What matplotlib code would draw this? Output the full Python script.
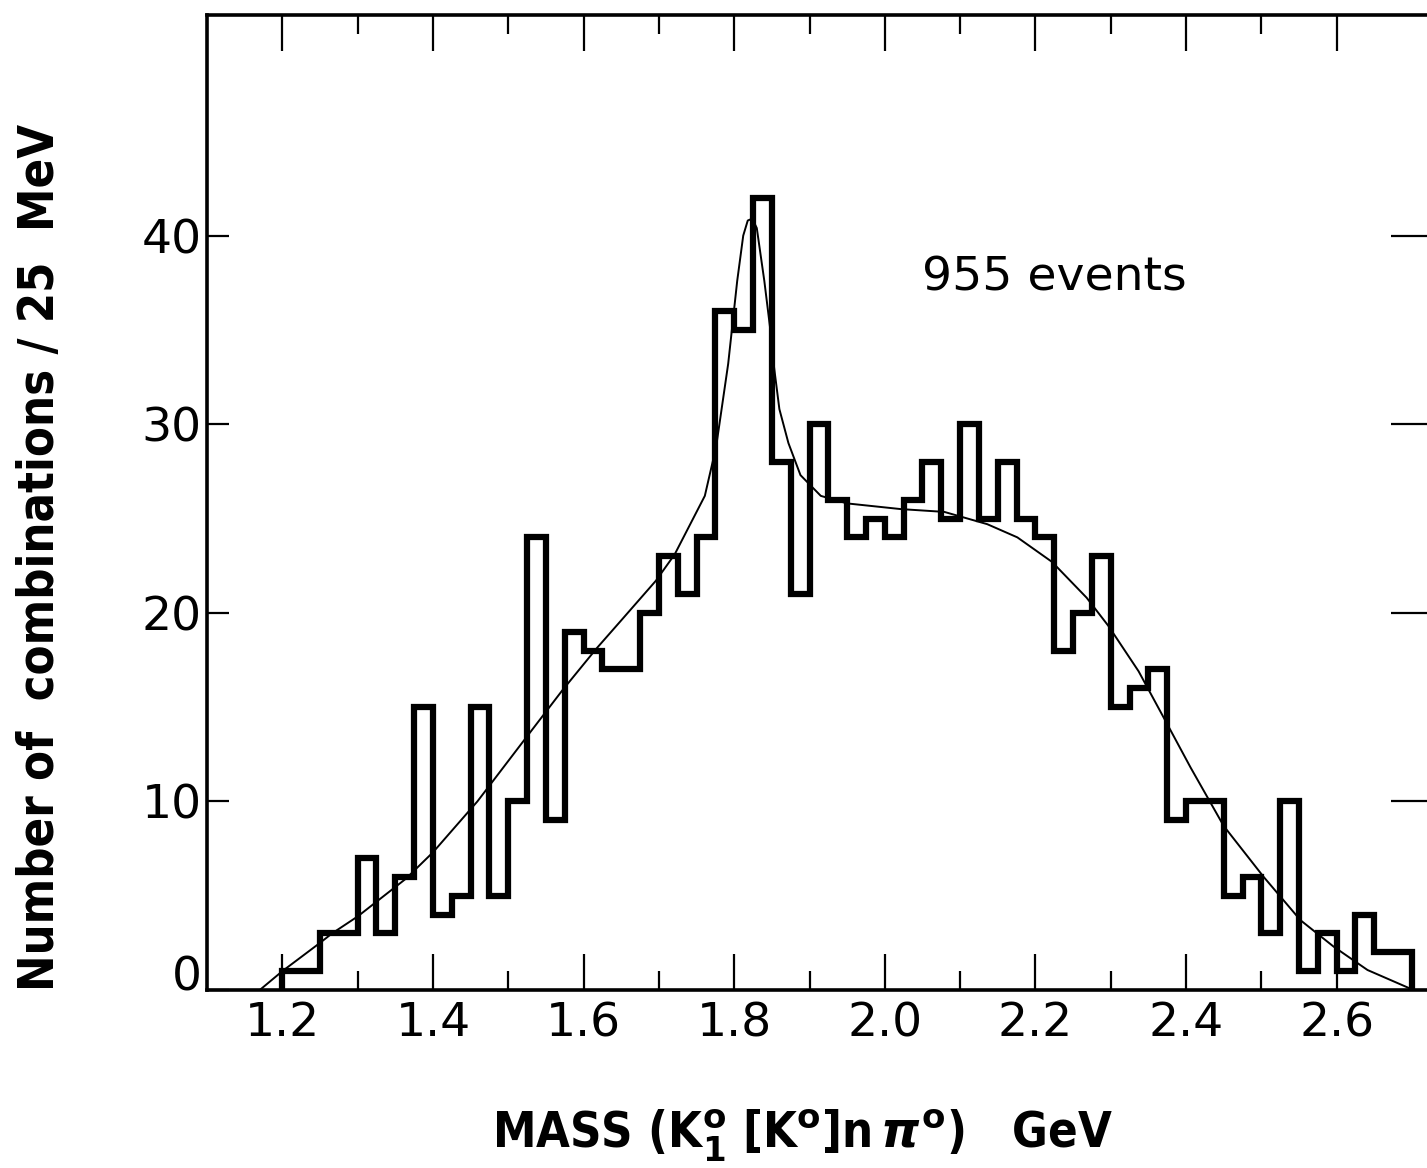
import matplotlib
matplotlib.use("Agg")
import matplotlib.pyplot as plt
import matplotlib.transforms as mtransforms
import numpy as np

# histogram: 25 MeV bins from 1.2 to 2.7 GeV
bin_edges = np.linspace(1.2, 2.7, 61)
counts = [1, 1, 3, 3, 7, 3, 6, 15, 4, 5,
          15, 5, 10, 24, 9, 19, 18, 17, 17, 20,
          23, 21, 24, 36, 35, 42, 28, 21, 30, 26,
          24, 25, 24, 26, 28, 25, 30, 25, 28, 25,
          24, 18, 20, 23, 15, 16, 17, 9, 10, 10,
          5, 6, 3, 10, 1, 3, 1, 4, 2, 2]

# fitted curve
fit_x = [1.170, 1.200, 1.250, 1.266, 1.300, 1.364, 1.400, 1.459, 1.524, 1.572,
         1.617, 1.650, 1.696, 1.721, 1.761, 1.776, 1.792, 1.804, 1.812, 1.818,
         1.824, 1.830, 1.840, 1.848, 1.853, 1.860, 1.872, 1.888, 1.915, 1.950,
         2.021, 2.079, 2.136, 2.176, 2.222, 2.268, 2.297, 2.337, 2.375, 2.406,
         2.450, 2.503, 2.552, 2.596, 2.641, 2.702]
fit_y = [0.0, 1.0, 2.5, 3.0, 3.9, 5.9, 7.3, 10.0, 13.4, 15.9,
         18.1, 19.6, 21.7, 23.1, 26.2, 28.8, 33.2, 37.6, 40.0, 40.8,
         40.9, 40.4, 37.6, 35.0, 33.0, 30.8, 29.0, 27.3, 26.2, 25.8,
         25.5, 25.35, 24.7, 24.0, 22.7, 20.8, 19.3, 16.9, 14.1, 11.8,
         8.7, 6.0, 3.7, 2.3, 1.06, 0.0]

x_major = [1.2, 1.4, 1.6, 1.8, 2.0, 2.2, 2.4, 2.6]
x_major_labels = ["1.2", "1.4", "1.6", "1.8", "2.0", "2.2", "2.4", "2.6"]
x_minor = [1.3, 1.5, 1.7, 1.9, 2.1, 2.3, 2.5]
y_ticks = [0, 10, 20, 30, 40]
y_labels = ["0", "10", "20", "30", "40"]

cond = ["DejaVu Sans Condensed", "DejaVu Sans"]
plt.rcParams["mathtext.fontset"] = "custom"
plt.rcParams["mathtext.rm"] = "DejaVu Sans Condensed:bold"
plt.rcParams["mathtext.it"] = "DejaVu Sans Condensed:bold:italic"
plt.rcParams["mathtext.bf"] = "DejaVu Sans Condensed:bold"

fig = plt.figure(figsize=(14.27, 11.68), dpi=100)
ax = fig.add_axes([0.1451, 0.1524, 0.8605, 0.8348])

ax.stairs(counts, bin_edges, baseline=0, color="black", linewidth=4.5)
ax.plot(fit_x, fit_y, color="black", linewidth=1.4)

ax.set_xlim(1.1, 2.7306)
ax.set_ylim(0, 51.7)

for s in ax.spines.values():
    s.set_linewidth(2.6)

ax.set_xticks(x_major)
ax.set_xticklabels(x_major_labels)
ax.set_xticks(x_minor, minor=True)
ax.tick_params(axis="x", which="both", direction="in", top=True, bottom=True,
               width=1.6, pad=8, labelsize=34, colors="black")
ax.tick_params(axis="x", which="major", length=26)
ax.tick_params(axis="x", which="minor", length=14)

ax.set_yticks(y_ticks)
ax.set_yticklabels(y_labels)
ax.tick_params(axis="y", direction="in", length=16, width=1.6, pad=4,
               labelsize=34, right=False)

# the "0" label sits a little above the axis line
zero_lab = ax.get_yticklabels()[0]
zero_lab.set_transform(zero_lab.get_transform() +
                       mtransforms.ScaledTranslation(0, 0.17, fig.dpi_scale_trans))

sec = ax.secondary_yaxis("right")
sec.set_yticks([10, 20, 30, 40])
sec.tick_params(direction="in", length=32, width=1.6, labelright=False)
sec.spines["right"].set_linewidth(2.6)

ax.text(2.2256, 37.75, "955 events", fontsize=34, ha="center", va="center")

fig.text(803 / 1427, 1 - 1135 / 1168,
         r"MASS (K$^{\mathrm{o}}_{1}$ [K$^{\mathrm{o}}$]n$\,\pi^{\mathrm{o}}$)   GeV",
         fontsize=35, fontweight="bold", family=cond, fontstretch="condensed",
         ha="center", va="center")
fig.text(40 / 1427, 1 - 557 / 1168,
         "Number of  combinations / 25  MeV",
         fontsize=35, fontweight="bold", family=cond, fontstretch="condensed",
         rotation=90, ha="center", va="center")

fig.savefig("out.png", dpi=100)
